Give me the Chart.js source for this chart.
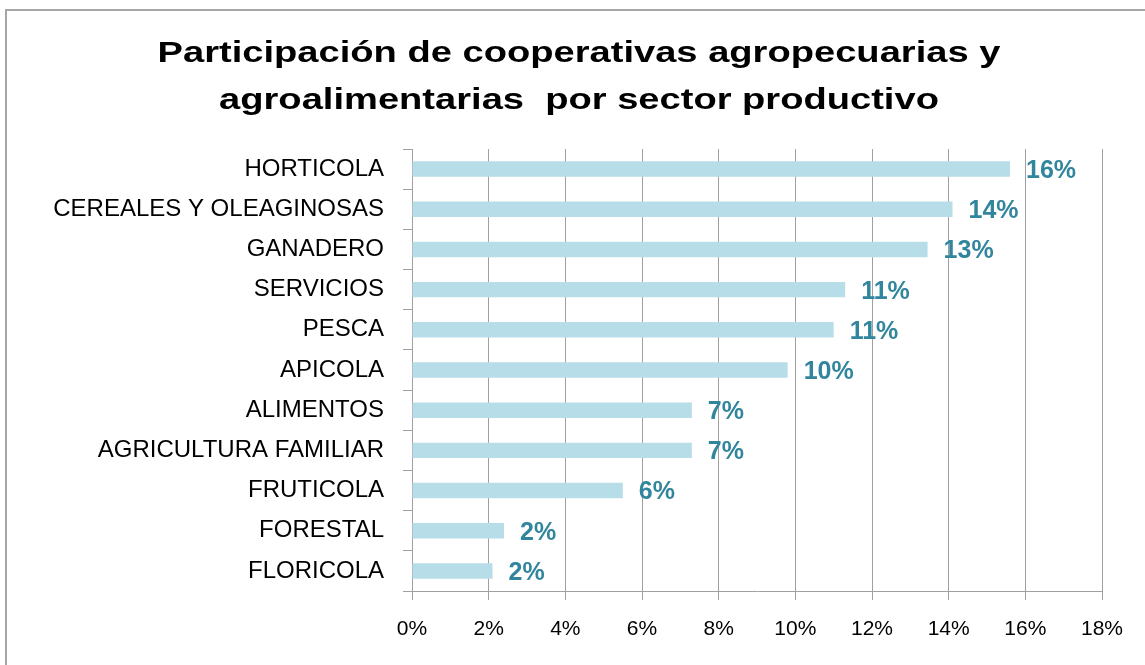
<!DOCTYPE html>
<html>
<head>
<meta charset="utf-8">
<script src="https://cdn.jsdelivr.net/npm/chart.js@4"></script>
<style>
  body { margin: 0; background: #fff; overflow: hidden; }
  .frame { position: absolute; left: 5px; top: 9px; width: 1200px; height: 700px; border: 2px solid #a6a6a6; }
  #chart { position: absolute; left: 0; top: 0; }
</style>
</head>
<body>
<div class="frame"></div>
<canvas id="chart" width="1145" height="665"></canvas>
<script>
const titleLines = ['Participación de cooperativas agropecuarias y', 'agroalimentarias  por sector productivo'];
const categories = ['HORTICOLA', 'CEREALES Y OLEAGINOSAS', 'GANADERO', 'SERVICIOS', 'PESCA', 'APICOLA',
  'ALIMENTOS', 'AGRICULTURA FAMILIAR', 'FRUTICOLA', 'FORESTAL', 'FLORICOLA'];
const shares = [15.6, 14.1, 13.45, 11.3, 11.0, 9.8, 7.3, 7.3, 5.5, 2.4, 2.1];
const axisMax = 18;
const axisStep = 2;

const font = '"Liberation Sans", Arial, sans-serif';
const gridColor = '#a0a0a0';

// title drawn a bit wider than the font, like the original picture
const titlePlugin = {
  id: 'wideTitle',
  afterDraw(chart) {
    const ctx = chart.ctx;
    ctx.save();
    ctx.font = 'bold 30px ' + font;
    ctx.fillStyle = '#000';
    ctx.textAlign = 'center';
    ctx.textBaseline = 'alphabetic';
    titleLines.forEach((line, i) => {
      ctx.save();
      ctx.translate(579, 62 + i * 47);
      ctx.scale(1.27, 1);
      ctx.fillText(line, 0, 0);
      ctx.restore();
    });
    ctx.restore();
  }
};

// percentage labels at the end of each bar
const barLabels = {
  id: 'barLabels',
  afterDatasetsDraw(chart) {
    const ctx = chart.ctx;
    const meta = chart.getDatasetMeta(0);
    ctx.save();
    ctx.font = 'bold 25px ' + font;
    ctx.fillStyle = '#31859c';
    ctx.textAlign = 'left';
    ctx.textBaseline = 'middle';
    meta.data.forEach((bar, i) => {
      ctx.fillText(Math.round(shares[i]) + '%', bar.x + 16, bar.y + 2);
    });
    ctx.restore();
  }
};

new Chart(document.getElementById('chart').getContext('2d'), {
  type: 'bar',
  data: {
    labels: categories,
    datasets: [{
      data: shares,
      backgroundColor: '#b7dee8',
      borderWidth: 0,
      barPercentage: 0.385,
      categoryPercentage: 1
    }]
  },
  options: {
    indexAxis: 'y',
    responsive: false,
    animation: false,
    events: [],
    layout: { padding: { top: 149, right: 43, left: 0, bottom: 0 } },
    plugins: {
      legend: { display: false },
      title: { display: false },
      tooltip: { enabled: false }
    },
    scales: {
      x: {
        min: 0,
        max: axisMax,
        ticks: {
          stepSize: axisStep,
          callback: v => v + '%',
          color: '#000',
          font: { family: font, size: 21 },
          padding: 17,
          maxRotation: 0
        },
        grid: { color: gridColor, tickLength: 9 },
        border: { color: gridColor },
        afterFit: s => { s.height = 74; }
      },
      y: {
        ticks: {
          color: '#000',
          font: { family: font, size: 24 },
          padding: 19
        },
        grid: { color: gridColor, drawOnChartArea: false, tickLength: 9, offset: true },
        border: { color: gridColor },
        afterFit: s => { s.width = 412; }
      }
    }
  },
  plugins: [titlePlugin, barLabels]
});
</script>
</body>
</html>
